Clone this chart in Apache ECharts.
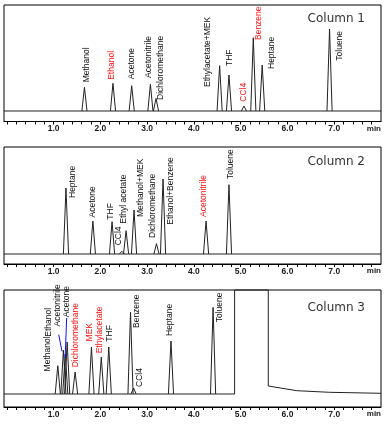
<!DOCTYPE html>
<html><head><meta charset="utf-8">
<script src="https://cdn.jsdelivr.net/npm/echarts@6/dist/echarts.min.js"></script>
<style>html,body{margin:0;padding:0;background:#fff}#c{width:385px;height:425px}</style>
</head><body><div id="c"></div>
<script>
// ---------- DATA (retention time in min, peak height in detector units) ----------
const xTickLabelValues = [1, 2, 3, 4, 5, 6, 7];
const xTickLabels = ['1.0', '2.0', '3.0', '4.0', '5.0', '6.0', '7.0'];
const xMinorTickValues = [0, 0.2, 0.4, 0.6, 0.8, 1, 1.2, 1.4, 1.6, 1.8, 2, 2.2, 2.4, 2.6, 2.8, 3, 3.2, 3.4, 3.6, 3.8, 4, 4.2, 4.4, 4.6, 4.8, 5, 5.2, 5.4, 5.6, 5.8, 6, 6.2, 6.4, 6.6, 6.8, 7, 7.2, 7.4, 7.6, 7.8];
const panelTitles = ['Column 1', 'Column 2', 'Column 3'];

const col1Names   = ['Methanol', 'Ethanol', 'Acetone', 'Acetonitrile', 'Dichloromethane', 'Ethylacetate+MEK', 'THF', 'CCl4', 'Benzene', 'Heptane', 'Toluene'];
const col1Times   = [1.66, 2.27, 2.67, 3.07, 3.19, 4.55, 4.75, 5.07, 5.27, 5.46, 6.90];
const col1Heights = [23.7, 27.7, 25.3, 26.7, 12.7, 45.3, 36.0, 5.0, 73.3, 46.0, 82.0];
const col1Highlight = [false, true, false, false, false, false, false, true, true, false, false];

const col2Names   = ['Heptane', 'Acetone', 'THF', 'CCl4', 'Ethyl acetate', 'Methanol+MEK', 'Dichloromethane', 'Ethanol+Benzene', 'Acetonitrile', 'Toluene'];
const col2Times   = [1.265, 1.84, 2.25, 2.46, 2.55, 2.72, 3.20, 3.34, 4.26, 4.75];
const col2Heights = [66.0, 33.0, 32.3, 2.7, 23.3, 44.0, 10.3, 75.0, 33.0, 69.3];
const col2Highlight = [false, false, false, false, false, false, false, false, true, false];

const col3Names   = ['Methanol', 'Ethanol', 'Acetonitrile', 'Acetone', 'Dichloromethane', 'MEK', 'Ethylacetate', 'THF', 'Benzene', 'CCl4', 'Heptane', 'Toluene'];
const col3Times   = [1.09, 1.21, 1.25, 1.29, 1.46, 1.81, 2.02, 2.18, 2.645, 2.71, 3.51, 4.41];
const col3Heights = [28.3, 44.0, 40.0, 52.0, 22.0, 47.0, 37.0, 47.0, 82.0, 6.0, 53.0, 86.7];
const col3Highlight = [false, false, false, false, true, true, true, false, false, false, false, false];
// off-scale solvent peak (runs to the top of the frame) and its tail in Column 3: [time, response]
const col3SolventTimes  = [4.87, 4.87, 5.59, 5.59, 5.63, 6.2, 6.9, 8.0];
const col3SolventValues = [0, 104, 104, 8, 6, 3.3, 1.7, 0.7];

// ---------- LAYOUT / STYLE ----------
const X_MIN = -0.06, X_MAX = 8.0, HALF_W = 0.055;
const grids = [
  { top: 5, height: 116.5, yMin: -10.5, yMax: 106 },
  { top: 147, height: 117, yMin: -10, yMax: 107 },
  { top: 290, height: 117, yMin: -13, yMax: 104 }
];
const titleTops = [8, 151, 297];
// label offsets (px) from peak apex to label bottom-centre
const col1LabelOff = [[2,-5],[-1.5,-3.5],[0,-6.5],[-1.3,-6.3],[4.6,1.7],[-12.4,21.3],[1,-9],[0,-4.3],[5.4,2.3],[9,4],[9.7,31.7]];
const col2LabelOff = [[6.6,10],[-0.7,-3.6],[-1.7,-2],[-3,-6],[-2,-7],[6.3,7],[-4,-5.7],[8,45.7],[-2.3,-4],[1.3,-5.7]];
const col3LabelOff = [[-10,5.7],[-14.4,-13.3],[-7.5,-27.6],[-0.9,-24.8],[1,-4.7],[-2,-5.6],[-1.7,-3.7],[0.6,-5.3],[6.4,16],[6,-1],[-1.3,-5],[6.3,15]];
// leader lines (px, relative to apex): [fromDx, fromDy, toDx, toDy]
const col3Leaders = { 1: [-4.7, -15.3, -1.4, 1.4], 3: [-0.5, -24, -2, 16] };
const RED = '#ff1010', BLACK = '#111';
const LABEL_FONT = '8.5px "Liberation Sans", Arial, sans-serif';
const TRACE = '#222';

function peakSeries(gi, names, times, heights, hi, offs, leaders) {
  return {
    type: 'custom', xAxisIndex: gi, yAxisIndex: gi, clip: false, silent: true,
    data: times.map((t, i) => [t, heights[i], i]),
    renderItem: function (params, api) {
      const t = api.value(0), h = api.value(1), i = api.value(2);
      const p0 = api.coord([t - HALF_W, 0]);
      const p1 = api.coord([t, h]);
      const p2 = api.coord([t + HALF_W, 0]);
      const o = offs[i];
      const children = [
        { type: 'polyline', shape: { points: [p0, p1, p2] }, style: { stroke: TRACE, fill: null, lineWidth: 1 } },
        { type: 'text', x: p1[0] + o[0], y: p1[1] + o[1], rotation: Math.PI / 2,
          style: { text: names[i], fill: hi[i] ? RED : BLACK, font: LABEL_FONT, align: 'left', verticalAlign: 'middle' } }
      ];
      if (leaders && leaders[i]) {
        const L = leaders[i];
        children.push({ type: 'line', shape: { x1: p1[0] + L[0], y1: p1[1] + L[1], x2: p1[0] + L[2], y2: p1[1] + L[3] },
          style: { stroke: '#1010ff', lineWidth: 1 } });
      }
      return { type: 'group', children: children };
    }
  };
}

const option = {
  animation: false,
  backgroundColor: '#fff',
  grid: grids.map(g => ({ left: 4, right: 4, top: g.top, height: g.height, show: true, borderColor: '#000', borderWidth: 1, backgroundColor: 'transparent' })),
  xAxis: grids.map((g, gi) => ({
    type: 'value', gridIndex: gi, min: X_MIN, max: X_MAX,
    axisLine: { show: true, onZero: false, lineStyle: { color: '#000', width: 1 } },
    axisTick: { show: true, customValues: xMinorTickValues, length: 3, lineStyle: { color: '#000', width: 1 } },
    axisLabel: { show: true, customValues: xTickLabelValues, formatter: v => xTickLabels[xTickLabelValues.indexOf(Math.round(v))] || '',
      fontSize: 8.5, fontWeight: 'bold', color: '#1a1a1a', margin: 3, fontFamily: 'Liberation Sans, Arial, sans-serif' },
    splitLine: { show: false }
  })),
  yAxis: grids.map((g, gi) => ({ type: 'value', gridIndex: gi, min: g.yMin, max: g.yMax, show: false })),
  title: panelTitles.map((t, i) => ({ text: t, right: 15, top: titleTops[i],
    textStyle: { fontFamily: 'DejaVu Sans', fontSize: 12, fontWeight: 'normal', color: '#333' } })),
  graphic: grids.map(g => ({ type: 'text', right: 4, top: g.top + g.height + 3,
    style: { text: 'min', font: 'bold 8px "Liberation Sans", Arial, sans-serif', fill: '#1a1a1a' } })),
  series: [
    { type: 'line', xAxisIndex: 0, yAxisIndex: 0, data: [[X_MIN, 0], [X_MAX, 0]], symbol: 'none', lineStyle: { color: TRACE, width: 1 }, silent: true },
    { type: 'line', xAxisIndex: 1, yAxisIndex: 1, data: [[X_MIN, 0], [X_MAX, 0]], symbol: 'none', lineStyle: { color: TRACE, width: 1 }, silent: true },
    { type: 'line', xAxisIndex: 2, yAxisIndex: 2, data: [[X_MIN, 0]].concat(col3SolventTimes.map((t, i) => [t, col3SolventValues[i]])),
      symbol: 'none', lineStyle: { color: TRACE, width: 1 }, silent: true, clip: false },
    peakSeries(0, col1Names, col1Times, col1Heights, col1Highlight, col1LabelOff),
    peakSeries(1, col2Names, col2Times, col2Heights, col2Highlight, col2LabelOff),
    peakSeries(2, col3Names, col3Times, col3Heights, col3Highlight, col3LabelOff, col3Leaders)
  ]
};
const chart = echarts.init(document.getElementById('c'), null, { renderer: 'canvas' });
chart.setOption(option);
</script></body></html>
